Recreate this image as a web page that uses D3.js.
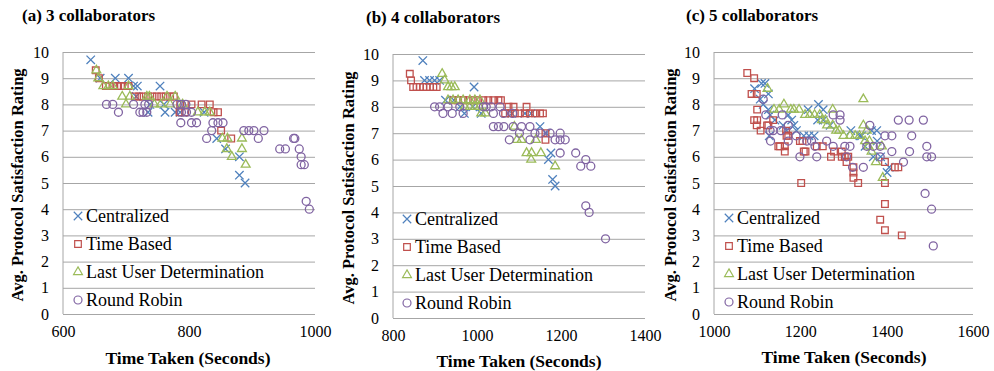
<!DOCTYPE html>
<html>
<head>
<meta charset="utf-8">
<script src="https://cdn.jsdelivr.net/npm/d3@7"></script>
<style>
  html, body { margin: 0; padding: 0; background: #fff; }
  svg { display: block; }
</style>
</head>
<body>
<svg id="chart" width="994" height="371"></svg>
<script>
// ---- data ----
const seriesNames = ['Centralized', 'Time Based', 'Last User Determination', 'Round Robin'];
const panelTitles = ['(a) 3 collaborators', '(b) 4 collaborators', '(c) 5 collaborators'];
const yTicks = [0, 1, 2, 3, 4, 5, 6, 7, 8, 9, 10];
const xTicks3 = [600, 800, 1000];
const xTicks4 = [800, 1000, 1200, 1400];
const xTicks5 = [1000, 1200, 1400, 1600];

// [time taken (s), avg rating]
const centralized3 = [[644,9.7],[659,9.0],[683,9.0],[704,9.0],[712,8.7],[718,8.7],[754,8.7],[716,8.3],[738,8.0],[760,8.0],
  [735,7.7],[762,7.7],[778,7.7],[786,7.7],[824,7.7],[844,6.7],[858,6.3],[880,6.0],[880,5.3],[889,5.0]];
const timeBased3 = [[652,9.3],[657,9.0],[668,8.7],[674,8.7],[680,8.7],[686,8.7],[692,8.7],[698,8.7],[704,8.7],
  [714,8.3],[721,8.3],[728,8.3],[735,8.3],[742,8.3],[749,8.3],[756,8.3],[763,8.3],[770,8.3],[776,8.3],
  [786,8.0],[804,8.0],[820,8.0],[833,8.0],[785,7.7],[794,7.7],[839,7.7],[846,7.7],[851,7.0],[867,6.7]];
const lastUser3 = [[653,9.3],[656,9.0],[664,8.7],[672,8.7],[679,8.7],[704,8.7],[694,8.3],[706,8.3],[733,8.3],[737,8.3],
  [765,8.3],[778,8.3],[700,8.0],[745,8.0],[755,8.0],[770,8.0],[790,8.0],[814,7.7],[825,7.7],[833,7.7],
  [853,6.7],[861,6.7],[884,6.7],[860,6.3],[884,6.3],[868,6.0],[890,5.7]];
const roundRobin3 = [[669,8.0],[679,8.0],[712,8.0],[730,8.0],[736,8.0],[781,8.0],[788,8.0],[795,8.0],[688,7.7],[722,7.7],
  [727,7.7],[733,7.7],[788,7.7],[796,7.7],[804,7.7],[787,7.3],[804,7.3],[812,7.3],[838,7.3],[846,7.3],[854,7.3],
  [836,7.0],[887,7.0],[895,7.0],[903,7.0],[919,7.0],[828,6.7],[910,6.7],[966,6.7],[968,6.7],[944,6.3],[953,6.3],
  [975,6.3],[978,6.0],[978,5.7],[983,5.7],[986,4.3],[991,4.0]];

const centralized4 = [[871,9.75],[875,9.0],[887,9.0],[899,9.0],[911,9.0],[993,8.75],[925,8.25],[945,8.25],[960,8.0],
  [990,8.0],[970,7.75],[1010,7.75],[1083,7.75],[1114,7.75],[1129,7.75],[1150,7.25],[1165,7.0],[1176,6.25],
  [1170,6.0],[1180,5.25],[1186,5.0]];
const timeBased4 = [[840,9.25],[843,9.0],[848,8.75],[856,8.75],[864,8.75],[872,8.75],[880,8.75],[888,8.75],[896,8.75],
  [904,8.75],[943,8.25],[955,8.25],[967,8.25],[979,8.25],[991,8.25],[1003,8.25],[1015,8.25],[1027,8.25],[1039,8.25],
  [1051,8.25],[1057,8.25],[1075,8.0],[1087,8.0],[1118,8.0],[1067,7.75],[1078,7.75],[1090,7.75],[1102,7.75],
  [1114,7.75],[1126,7.75],[1138,7.75],[1150,7.75],[1157,7.75],[1163,7.0],[1163,6.75]];
const lastUser4 = [[917,9.25],[923,9.0],[931,8.75],[939,8.75],[947,8.75],[931,8.25],[943,8.25],[955,8.25],[967,8.25],
  [983,8.25],[995,8.25],[1007,8.25],[971,8.0],[983,8.0],[995,8.0],[1006,8.0],[1010,7.75],[1020,7.75],[1089,7.25],
  [1095,6.75],[1106,6.75],[1140,6.75],[1118,6.25],[1130,6.25],[1152,6.25],[1129,6.0],[1186,5.75]];
const roundRobin4 = [[899,8.0],[911,8.0],[931,8.0],[959,8.0],[1015,8.0],[1022,8.0],[1034,8.0],[1055,8.0],[919,7.75],
  [941,7.75],[967,7.75],[1039,7.75],[1063,7.75],[1085,7.75],[1039,7.25],[1051,7.25],[1064,7.25],[1086,7.25],
  [1106,7.25],[1126,7.25],[1101,7.0],[1138,7.0],[1151,7.0],[1174,7.0],[1198,7.0],[1077,6.75],[1126,6.75],
  [1186,6.75],[1198,6.75],[1210,6.75],[1198,6.25],[1235,6.25],[1259,6.0],[1247,5.75],[1271,5.75],[1259,4.25],
  [1267,4.0],[1306,3.0]];

const centralized5 = [[1094,8.6],[1110,8.8],[1118,8.8],[1126,8.4],[1107,8.2],[1114,8.0],[1126,7.8],[1130,7.6],[1141,7.4],
  [1160,7.2],[1168,7.0],[1128,6.8],[1172,7.6],[1180,7.4],[1185,7.2],[1191,7.0],[1208,6.8],[1220,6.8],[1232,6.8],
  [1218,7.8],[1242,8.0],[1253,7.8],[1240,7.4],[1253,7.4],[1269,7.2],[1317,7.0],[1338,6.8],[1342,6.8],[1350,6.4],
  [1365,7.0],[1377,7.0],[1378,6.6],[1369,6.0],[1386,6.0],[1401,5.4],[1406,5.6]];
const timeBased5 = [[1077,9.2],[1093,9.0],[1087,8.4],[1099,8.4],[1100,7.8],[1093,7.4],[1100,7.4],[1099,7.2],[1108,7.0],
  [1123,7.2],[1137,7.4],[1126,7.2],[1149,6.4],[1153,6.4],[1164,6.2],[1164,6.4],[1168,6.8],[1172,6.8],[1167,7.0],
  [1199,6.6],[1212,6.2],[1202,5.0],[1205,6.6],[1208,6.2],[1238,6.4],[1252,6.4],[1271,6.0],[1278,6.2],[1296,6.0],
  [1296,6.2],[1303,6.0],[1311,6.0],[1307,5.8],[1323,5.6],[1323,5.4],[1323,5.2],[1334,5.0],[1396,5.0],[1396,5.8],
  [1396,4.2],[1385,3.6],[1396,3.2],[1435,3.0],[1419,5.6],[1427,5.6]];
const lastUser5 = [[1124,8.6],[1139,7.8],[1151,7.8],[1162,8.0],[1178,7.8],[1185,7.8],[1197,7.8],[1211,7.6],[1222,7.6],
  [1233,7.6],[1245,7.6],[1275,7.8],[1250,7.4],[1258,7.4],[1262,7.2],[1275,7.2],[1283,7.0],[1290,7.0],[1300,6.8],
  [1315,6.8],[1327,6.8],[1337,6.8],[1346,8.2],[1346,7.2],[1354,7.0],[1350,6.6],[1360,6.6],[1357,6.4],[1365,6.2],
  [1389,6.4],[1375,5.8],[1391,5.2]];
const roundRobin5 = [[1114,8.2],[1120,7.6],[1130,7.0],[1137,7.0],[1131,6.6],[1155,7.0],[1158,7.6],[1172,7.2],[1172,6.6],
  [1199,6.0],[1190,6.8],[1215,6.6],[1226,6.6],[1238,6.0],[1234,6.4],[1261,6.6],[1276,7.6],[1292,7.6],[1292,7.4],
  [1276,6.4],[1303,6.4],[1315,6.4],[1307,6.0],[1346,5.6],[1321,5.6],[1361,7.2],[1354,6.4],[1369,6.4],[1385,6.4],
  [1385,6.0],[1396,6.8],[1412,6.8],[1412,6.2],[1427,7.4],[1452,7.4],[1485,7.4],[1458,6.8],[1453,6.2],[1439,5.8],
  [1493,6.4],[1493,6.0],[1504,6.0],[1489,4.6],[1504,4.0],[1508,2.6]];

// ---- layout ----
const FONT = '"Liberation Serif", "Times New Roman", Times, serif';
const colors = ['#4f81bd', '#c0504d', '#9bbb59', '#8064a2'];
const symbols = [d3.symbolTimes, d3.symbolSquare2, d3.symbolTriangle2, d3.symbolCircle];
const symbolSizes = [48, 56, 56, 50];

const panels = [
  { title: panelTitles[0], ticks: xTicks3, series: [centralized3, timeBased3, lastUser3, roundRobin3],
    left: 63, right: 315, top: 52, bottom: 314, titleX: 22, titleY: 21, yLabelX: 17, xLabelX: 188, xLabelY: 364,
    legX: 78, legY: 216, legStep: 28 },
  { title: panelTitles[1], ticks: xTicks4, series: [centralized4, timeBased4, lastUser4, roundRobin4],
    left: 393, right: 645, top: 54, bottom: 318, titleX: 366, titleY: 23, yLabelX: 348, xLabelX: 519, xLabelY: 367,
    legX: 407, legY: 219, legStep: 28 },
  { title: panelTitles[2], ticks: xTicks5, series: [centralized5, timeBased5, lastUser5, roundRobin5],
    left: 714, right: 973, top: 52, bottom: 314, titleX: 686, titleY: 21, yLabelX: 670, xLabelX: 844, xLabelY: 363,
    legX: 729, legY: 218, legStep: 28 }
];

const svg = d3.select('#chart');

panels.forEach(p => {
  const x = d3.scaleLinear()
    .domain(d3.extent(p.ticks))
    .range([p.left, p.right]);
  const y = d3.scaleLinear()
    .domain(d3.extent(yTicks))
    .range([p.bottom, p.top]);

  const g = svg.append('g');

  // gridlines + y tick labels
  const yAxis = g.append('g')
    .attr('transform', `translate(${p.left},0)`)
    .call(d3.axisLeft(y).tickValues(yTicks).tickSize(-(p.right - p.left)).tickPadding(14));
  yAxis.select('.domain').remove();
  yAxis.selectAll('line').attr('stroke', '#a6a6a6').attr('stroke-width', 1);
  yAxis.selectAll('text')
    .style('font-family', FONT)
    .style('font-size', '16px')
    .attr('fill', '#000');

  // left axis line
  g.append('line')
    .attr('x1', p.left).attr('x2', p.left)
    .attr('y1', p.top).attr('y2', p.bottom)
    .attr('stroke', '#a6a6a6');

  // x tick labels
  const xAxis = g.append('g')
    .attr('transform', `translate(0,${p.bottom})`)
    .call(d3.axisBottom(x).tickValues(p.ticks).tickSize(0).tickPadding(12).tickFormat(d3.format('d')));
  xAxis.select('.domain').remove();
  xAxis.selectAll('text')
    .style('font-family', FONT)
    .style('font-size', '16px')
    .attr('fill', '#000');

  // titles
  g.append('text')
    .attr('x', p.titleX).attr('y', p.titleY)
    .style('font-family', FONT)
    .style('font-size', '17px').style('font-weight', 'bold')
    .text(p.title);

  g.append('text')
    .attr('transform', `translate(${p.yLabelX},${(p.top + p.bottom) / 2 + 2}) rotate(-90)`)
    .attr('text-anchor', 'middle')
    .attr('dominant-baseline', 'central')
    .style('font-family', FONT)
    .style('font-size', '16.5px').style('font-weight', 'bold')
    .text('Avg. Protocol Satisfaction Rating');

  g.append('text')
    .attr('x', p.xLabelX).attr('y', p.xLabelY)
    .attr('text-anchor', 'middle')
    .style('font-family', FONT)
    .style('font-size', '17.5px').style('font-weight', 'bold')
    .text('Time Taken (Seconds)');

  // markers
  p.series.forEach((pts, i) => {
    g.append('g').selectAll('path')
      .data(pts)
      .enter()
      .append('path')
      .attr('transform', d => `translate(${x(d[0])},${y(d[1])})`)
      .attr('d', d3.symbol().type(symbols[i]).size(symbolSizes[i]))
      .attr('fill', 'none')
      .attr('stroke', colors[i])
      .attr('stroke-width', 1.3);
  });

  // legend
  const legend = g.append('g');
  seriesNames.forEach((name, i) => {
    const row = legend.append('g')
      .attr('transform', `translate(${p.legX},${p.legY + i * p.legStep})`);
    row.append('path')
      .attr('d', d3.symbol().type(symbols[i]).size(symbolSizes[i]))
      .attr('fill', 'none')
      .attr('stroke', colors[i])
      .attr('stroke-width', 1.2);
    row.append('text')
      .attr('x', 8)
      .attr('dy', '0.35em')
      .style('font-family', FONT)
      .style('font-size', '18px')
      .text(name);
  });
});
</script>
</body>
</html>
